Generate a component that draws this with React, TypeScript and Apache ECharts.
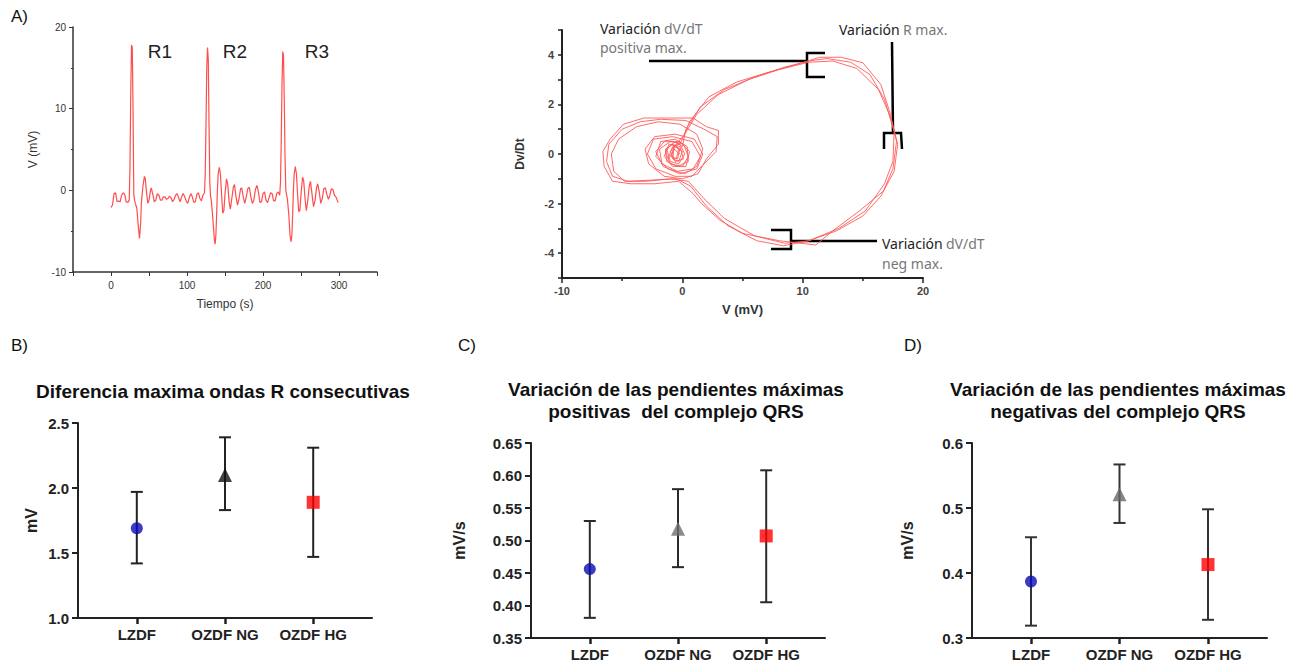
import React, { useEffect, useRef } from 'react';
import * as echarts from 'echarts';

// ECG trace: [tiempo (s), V (mV)]
const ecgPoints: number[][] = [
  [0, -2.1], [2, -1.8], [4, -0.4], [6, -0.3], [8, -1.4], [10, -1.3], [12, -1.4], [14, -0.6], [16, -0.3], [18, -0.5],
  [20, -1.4], [22, -1.5], [24, -1.2], [25, 3], [26, 12], [27, 17.8], [28, 17.5], [29, 10], [30, -0.5], [31, -1.2],
  [32, -1.6], [34, -2.2], [36, -4.5], [37.5, -5.9], [39, -4], [40, -1.5], [42, 0.5], [44, 1.7], [45, 1.5], [47, -0.5],
  [48.5, -1.6], [50, -1.2], [52, 0], [53, 0.3], [55, -0.5], [57, -1.4], [59, -1.2], [61, -0.4], [63, -0.6], [65, -1.2],
  [67, -1.2], [69, -0.8], [71, -0.8], [73, -1.1], [75, -1.0], [77, -0.7], [79, -0.9], [81, -1.4], [83, -1.1], [85, -0.6],
  [87, -0.4], [89, -0.9], [91, -1.4], [93, -0.8], [95, -0.4], [97, -0.8], [99, -1.3], [101, -1.6], [103, -0.9], [105, -0.4],
  [107, -0.8], [109, -1.5], [111, -1.4], [113, -0.5], [115, -0.3], [117, -1.0], [119, -1.3], [121, -0.6], [123, -0.3],
  [124, 2], [125, 8], [126, 15], [127, 17.5], [128, 16], [129, 8], [130, 1], [131, -0.8], [132, -1.2], [134, -3.5],
  [136, -6], [137, -6.6], [138, -5.5], [139, -3], [140, 0], [141, 2], [142.5, 2.8], [144, 2], [145.5, -0.5], [147, -2.8],
  [148.5, -2.5], [150, -0.5], [152, 1.4], [153.5, 0.8], [155.5, -1.5], [157, -2.3], [159, -1.0], [161, 0.4], [162.5, 0.7],
  [164.5, -0.8], [166.5, -1.8], [168.5, -1.0], [170.5, 0.2], [172, 0.3], [174, -0.8], [176, -1.6], [178, -0.8], [180, 0.2],
  [182, 0.4], [184, -0.8], [186, -1.6], [188, -1.2], [190, 0.1], [192, 0.6], [194, -0.2], [196, -1.5], [198, -1.4],
  [200, -0.4], [202, -0.2], [204, -1.2], [206, -1.5], [208, -0.9], [210, -0.3], [212, -0.4], [214, -1.3], [216, -1.3],
  [218, -0.4], [220, -0.2], [222, -0.6], [223, 1], [224, 6], [225, 13], [226, 17], [227, 16.5], [228, 11], [229, 4],
  [230, 0], [231, -0.5], [232, -1], [234, -3], [235.5, -5.5], [237, -6.3], [238, -5.5], [239, -3], [240, 0], [241, 2],
  [242.5, 2.9], [244, 2], [245.5, -0.5], [247, -2.6], [248.5, -2.5], [250, -0.5], [252, 1.6], [253.5, 1.2], [255.5, -1.2],
  [257, -2.5], [259, -1.2], [261, 0.6], [262.5, 1.1], [264.5, -0.5], [266.5, -2.0], [268.5, -1.2], [270.5, 0.3], [272, 0.8],
  [274, -0.2], [276, -1.6], [278, -1.0], [280, 0.2], [282, 0.3], [284, -0.5], [286, -1.1], [288, -0.6], [290, 0.2],
  [292, 0.1], [294, -0.6], [296, -0.8], [298, -1.3], [299, -1.5]
];

// Phase loop: [V (mV), Dv/Dt]
const phasePoints: number[][] = [
  [-1.2, -0.2], [-0.8, 0.3], [-0.2, 0.4], [0.2, 0.0], [-0.3, -0.4], [-1.0, -0.3], [-1.3, 0.2], [-0.6, 0.5], [0.0, 0.3],
  [0.3, 1.0], [1.5, 1.9], [3.5, 2.6], [6, 3.1], [8.5, 3.5], [10.5, 3.75], [12, 3.85], [14, 3.7], [15.6, 3.2], [16.8, 2.2],
  [17.6, 0.9], [17.5, -0.3], [16.8, -1.2], [15.2, -2.3], [13, -3.0], [10.5, -3.5], [8.5, -3.6], [6, -3.3], [3.5, -2.6],
  [1.8, -1.8], [0.5, -1.1], [-1, -1.0], [-3, -1.1], [-4.8, -1.1], [-5.7, -0.7], [-5.9, 0], [-5.3, 0.6], [-3.8, 1.1],
  [-2, 1.3], [-0.2, 1.2], [1.2, 0.8], [1.7, 0.2], [1.2, -0.5], [0.2, -0.8], [-1.2, -0.6], [-2.2, -0.1], [-1.8, 0.5],
  [-0.6, 0.6], [0.4, 0.3], [0.5, -0.3], [-0.4, -0.5], [-1.3, -0.3], [-1.4, 0.2], [-0.8, 0.4], [-0.2, 0.2], [-0.4, -0.2],
  [-0.9, -0.1],
  [-0.7, 0.3], [-0.1, 0.5], [0.6, 1.3], [2.2, 2.3], [4.5, 2.9], [7.2, 3.3], [9.8, 3.65], [11.4, 3.9], [13.2, 3.9],
  [15, 3.68], [16.5, 2.8], [17.3, 1.6], [17.8, 0.5], [17.5, -0.6], [16.7, -1.5], [14.7, -2.3], [12.5, -3.1], [11.1, -3.67],
  [8.1, -3.5], [5, -3.2], [3.1, -2.66], [1.6, -2.0], [0.9, -1.6], [-0.3, -1.1], [-2.3, -1.2], [-4.3, -1.2], [-5.8, -1.1],
  [-6.5, -0.5], [-6.6, 0.1], [-6, 0.6], [-4.9, 1.2], [-3.2, 1.45], [-1.5, 1.45], [0.9, 1.45], [2, 1.1], [3, 0.95],
  [3.0, 0.4], [2, -0.2], [1.3, -0.8], [0, -1.0], [-1.5, -0.9], [-2.8, -0.4], [-3.1, 0.2], [-2.3, 0.7], [-0.6, 0.8], [1, 0.6],
  [1.7, 0], [1.2, -0.6], [-0.2, -0.8], [-1.6, -0.5], [-2.2, 0.1], [-1.5, 0.5], [-0.2, 0.5], [0.6, 0.1], [0.3, -0.5],
  [-0.8, -0.5], [-1.5, -0.1], [-1.1, 0.4], [-0.2, 0.3], [0.1, -0.2], [-0.6, -0.3], [-1.0, 0.1],
  [-0.5, 0.4], [0.2, 0.8], [1.2, 1.6], [3, 2.4], [5.5, 3.0], [8, 3.4], [10.5, 3.7], [12.5, 3.75], [14.5, 3.45], [16.3, 2.6],
  [17.3, 1.5], [17.9, 0.4], [17.6, -0.7], [16.5, -1.7], [15, -2.5], [12.8, -3.1], [10.5, -3.5], [8.4, -3.7], [6.2, -3.5],
  [3.8, -2.9], [2, -2.1], [0.7, -1.3], [-0.5, -1.0], [-2.5, -1.05], [-4.5, -1.1], [-5.8, -0.9], [-6.3, -0.3], [-6.1, 0.4],
  [-5, 1.0], [-3.5, 1.3], [-1.8, 1.4], [0.3, 1.35], [1.8, 1.0], [2.9, 0.7], [2.8, 0.1], [1.8, -0.4], [0.8, -0.9],
  [-0.6, -0.9], [-2.2, -0.6], [-2.9, 0], [-2.4, 0.6], [-0.8, 0.7], [0.8, 0.5], [1.5, -0.1], [0.9, -0.6], [-0.4, -0.7],
  [-1.7, -0.4], [-1.9, 0.2], [-1.0, 0.5], [0.1, 0.4], [0.5, -0.1], [0.0, -0.5], [-1.0, -0.4], [-1.4, 0.1], [-0.9, 0.4],
  [-0.3, 0.2], [-0.5, -0.2], [-1.0, -0.1], [-0.6, 0.3], [0.0, 0.1], [-0.3, -0.3], [-0.8, -0.2], [-0.7, 0.2], [-0.2, 0.0]
];

const groups = ['LZDF', 'OZDF NG', 'OZDF HG'];

const rMean = [1.69, 2.10, 1.89];
const rLow = [1.42, 1.83, 1.47];
const rHigh = [1.97, 2.39, 2.31];

const posMean = [0.456, 0.518, 0.507];
const posLow = [0.381, 0.459, 0.405];
const posHigh = [0.530, 0.579, 0.608];

const negMean = [0.387, 0.521, 0.413];
const negLow = [0.319, 0.477, 0.328];
const negHigh = [0.455, 0.567, 0.498];

const FONT = 'Arial, "Liberation Sans", sans-serif';
const SLOT_COUNT = 11;
const catSlot = [2, 5, 8];
const axisCats = Array.from({ length: SLOT_COUNT }, (_, i) => {
  const k = catSlot.indexOf(i);
  return k >= 0 ? groups[k] : ' '.repeat(i + 1);
});
const isCat = (i: number) => catSlot.indexOf(i) >= 0;

const symbols = ['circle', 'triangle', 'rect'];
const symbolSizes = [12, 14, 13];

function catXAxis(gridIndex: number) {
  return {
    type: 'category', gridIndex, data: axisCats, boundaryGap: false,
    axisLine: { show: true, lineStyle: { color: '#222', width: 2 } },
    axisTick: { show: true, interval: (i: number) => isCat(i), length: 6, lineStyle: { color: '#222', width: 2.5 } },
    axisLabel: { interval: (i: number) => isCat(i), fontFamily: FONT, fontWeight: 'bold', fontSize: 15, color: '#222', margin: 9 },
    splitLine: { show: false },
  };
}

function numYAxis(gridIndex: number, min: number, max: number, interval: number, dec: number, name: string, nameGap: number) {
  return {
    type: 'value', gridIndex, min, max, interval,
    axisLine: { show: true, lineStyle: { color: '#222', width: 2 } },
    axisTick: { show: true, length: 6, lineStyle: { color: '#222', width: 2 } },
    axisLabel: { fontFamily: FONT, fontWeight: 'bold', fontSize: 15, color: '#222', margin: 9, formatter: (v: number) => v.toFixed(dec) },
    splitLine: { show: false },
    name, nameLocation: 'middle', nameGap,
    nameTextStyle: { fontFamily: FONT, fontWeight: 'bold', fontSize: 16, color: '#222' },
  };
}

function errSeries(idx: number, lows: number[], highs: number[], color: string) {
  return {
    type: 'custom', xAxisIndex: idx, yAxisIndex: idx, z: 3,
    data: groups.map((_, i) => [catSlot[i], lows[i], highs[i]]),
    encode: { x: 0, y: [1, 2] },
    renderItem: (_p: any, api: any) => {
      const x = api.value(0);
      const lo = api.coord([x, api.value(1)]);
      const hi = api.coord([x, api.value(2)]);
      const w = 6;
      const st = { stroke: color, lineWidth: 2 };
      return {
        type: 'group',
        children: [
          { type: 'line', shape: { x1: lo[0], y1: lo[1], x2: hi[0], y2: hi[1] }, style: st },
          { type: 'line', shape: { x1: lo[0] - w, y1: lo[1], x2: lo[0] + w, y2: lo[1] }, style: st },
          { type: 'line', shape: { x1: hi[0] - w, y1: hi[1], x2: hi[0] + w, y2: hi[1] }, style: st },
        ],
      };
    },
  };
}

function meanSeries(idx: number, means: number[], colors: string[]) {
  return {
    type: 'scatter', xAxisIndex: idx, yAxisIndex: idx, z: 5,
    data: groups.map((_, i) => ({
      value: [catSlot[i], means[i]],
      symbol: symbols[i], symbolSize: symbolSizes[i],
      itemStyle: { color: colors[i] },
    })),
  };
}

const annoLine = { stroke: '#000', lineWidth: 2.5 };
const rich = {
  a: { fontFamily: '"Noto Sans", sans-serif', fontSize: 14, fill: '#222', color: '#222' },
  b: { fontFamily: '"Noto Sans", sans-serif', fontSize: 14, fill: '#777', color: '#777' },
};

const option: any = {
  animation: false,
  backgroundColor: '#fff',
  grid: [
    { left: 73, top: 27, width: 304, height: 245 },
    { left: 562, top: 30, width: 361, height: 248 },
    { left: 78, top: 423, width: 294, height: 195 },
    { left: 531, top: 443, width: 294, height: 195 },
    { left: 972, top: 443, width: 295, height: 195 },
  ],
  xAxis: [
    {
      type: 'value', gridIndex: 0, min: -50, max: 350, interval: 50,
      axisLine: { onZero: false, lineStyle: { color: '#333', width: 1.5 } },
      axisTick: { length: 4, lineStyle: { color: '#333' } },
      axisLabel: { fontFamily: FONT, fontSize: 10, color: '#333', margin: 8,
        formatter: (v: number) => (v % 100 === 0 ? String(v) : '') },
      splitLine: { show: false },
      name: 'Tiempo (s)', nameLocation: 'middle', nameGap: 26,
      nameTextStyle: { fontFamily: FONT, fontSize: 12, color: '#333' },
    },
    {
      type: 'value', gridIndex: 1, min: -10, max: 20, interval: 10,
      axisLine: { onZero: false, lineStyle: { color: '#222', width: 2 } },
      axisTick: { length: 5, lineStyle: { color: '#222', width: 1.5 } },
      minorTick: { show: true, splitNumber: 2, length: 3, lineStyle: { color: '#222', width: 1.5 } },
      axisLabel: { fontFamily: FONT, fontSize: 11, fontWeight: 'bold', color: '#444', margin: 7 },
      splitLine: { show: false },
      name: 'V (mV)', nameLocation: 'middle', nameGap: 25,
      nameTextStyle: { fontFamily: FONT, fontSize: 13, fontWeight: 'bold', color: '#333' },
    },
    catXAxis(2), catXAxis(3), catXAxis(4),
  ],
  yAxis: [
    {
      type: 'value', gridIndex: 0, min: -10, max: 20, interval: 10,
      axisLine: { show: true, onZero: false, lineStyle: { color: '#333', width: 1.5 } },
      axisTick: { show: true, length: 4, lineStyle: { color: '#333' } },
      minorTick: { show: true, splitNumber: 2, length: 2, lineStyle: { color: '#333' } },
      axisLabel: { fontFamily: FONT, fontSize: 10, color: '#333', margin: 7 },
      splitLine: { show: false },
      name: 'V (mV)', nameLocation: 'middle', nameGap: 34,
      nameTextStyle: { fontFamily: FONT, fontSize: 12, color: '#333' },
    },
    {
      type: 'value', gridIndex: 1, min: -5, max: 5, interval: 1,
      axisLine: { show: true, onZero: false, lineStyle: { color: '#222', width: 2 } },
      axisTick: { show: true, length: 4, lineStyle: { color: '#222', width: 1.5 } },
      axisLabel: { fontFamily: FONT, fontSize: 11, fontWeight: 'bold', color: '#444', margin: 8,
        formatter: (v: number) => (Math.round(v) % 2 === 0 ? String(Math.round(v)) : '') },
      splitLine: { show: false },
      name: 'Dv/Dt', nameLocation: 'middle', nameGap: 36,
      nameTextStyle: { fontFamily: FONT, fontSize: 12, fontWeight: 'bold', color: '#333' },
    },
    numYAxis(2, 1.0, 2.5, 0.5, 1, 'mV', 39),
    numYAxis(3, 0.35, 0.65, 0.05, 2, 'mV/s', 64),
    numYAxis(4, 0.3, 0.6, 0.1, 1, 'mV/s', 57),
  ],
  series: [
    {
      type: 'line', xAxisIndex: 0, yAxisIndex: 0, data: ecgPoints, showSymbol: false,
      lineStyle: { color: '#ff4d4d', width: 1.2 },
    },
    {
      type: 'line', xAxisIndex: 1, yAxisIndex: 1, data: phasePoints, showSymbol: false,
      lineStyle: { color: '#ff5a5a', width: 0.9 },
    },
    errSeries(2, rLow, rHigh, '#222'),
    meanSeries(2, rMean, ['#0a0ab4', '#111111', '#ff0000']),
    errSeries(3, posLow, posHigh, '#2a2a2a'),
    meanSeries(3, posMean, ['#0a0ab4', '#6e6e6e', '#ff0000']),
    errSeries(4, negLow, negHigh, '#333'),
    meanSeries(4, negMean, ['#0a0ab4', '#666666', '#ff0000']),
  ],
  graphic: [
    { type: 'text', x: 11, y: 8, style: { text: 'A)', font: `17px ${FONT}`, fill: '#111' } },
    { type: 'text', x: 11, y: 337, style: { text: 'B)', font: `17px ${FONT}`, fill: '#111' } },
    { type: 'text', x: 458, y: 337, style: { text: 'C)', font: `17px ${FONT}`, fill: '#111' } },
    { type: 'text', x: 904, y: 337, style: { text: 'D)', font: `17px ${FONT}`, fill: '#111' } },

    { type: 'text', x: 160, y: 51, style: { text: 'R1', font: `19px ${FONT}`, fill: '#222', textAlign: 'center', textVerticalAlign: 'middle' } },
    { type: 'text', x: 235, y: 51, style: { text: 'R2', font: `19px ${FONT}`, fill: '#222', textAlign: 'center', textVerticalAlign: 'middle' } },
    { type: 'text', x: 317, y: 51, style: { text: 'R3', font: `19px ${FONT}`, fill: '#222', textAlign: 'center', textVerticalAlign: 'middle' } },

    { type: 'text', x: 600, y: 19, style: { text: '{a|Variación} {b|dV/dT}\n{b|positiva max.}', rich, lineHeight: 19 } },
    { type: 'text', x: 839, y: 22, style: { text: '{a|Variación} {b|R max.}', rich } },
    { type: 'text', x: 882, y: 233, style: { text: '{a|Variación} {b|dV/dT}\n{b|neg max.}', rich, lineHeight: 20 } },

    { type: 'line', shape: { x1: 649, y1: 61, x2: 807, y2: 61 }, style: annoLine },
    { type: 'polyline', shape: { points: [[825, 53], [807, 53], [807, 77], [825, 77]] }, style: { ...annoLine, fill: null } },
    { type: 'line', shape: { x1: 892, y1: 42, x2: 893, y2: 133 }, style: annoLine },
    { type: 'polyline', shape: { points: [[884, 149], [884, 133], [901, 133], [902, 149]] }, style: { ...annoLine, fill: null } },
    { type: 'line', shape: { x1: 790, y1: 241, x2: 877, y2: 241 }, style: annoLine },
    { type: 'polyline', shape: { points: [[771, 230], [791, 230], [791, 249], [771, 249]] }, style: { ...annoLine, fill: null } },

    { type: 'text', x: 223, y: 391, style: { text: 'Diferencia maxima ondas R consecutivas', font: `bold 19px ${FONT}`, fill: '#111', textAlign: 'center', textVerticalAlign: 'middle' } },
    { type: 'text', x: 676, y: 400, style: { text: 'Variación de las pendientes máximas\npositivas  del complejo QRS', font: `bold 19px ${FONT}`, fill: '#111', textAlign: 'center', textVerticalAlign: 'middle', lineHeight: 22 } },
    { type: 'text', x: 1118, y: 400, style: { text: 'Variación de las pendientes máximas\nnegativas del complejo QRS', font: `bold 19px ${FONT}`, fill: '#111', textAlign: 'center', textVerticalAlign: 'middle', lineHeight: 22 } },
  ],
};

export default function App() {
  const ref = useRef<HTMLDivElement>(null);
  useEffect(() => {
    const chart = echarts.init(ref.current as HTMLDivElement, null, { renderer: 'svg' });
    chart.setOption(option);
    return () => chart.dispose();
  }, []);
  return (
    <div
      ref={ref}
      style={{ position: 'fixed', left: 0, top: 0, width: 1300, height: 664, background: '#fff' }}
    />
  );
}
